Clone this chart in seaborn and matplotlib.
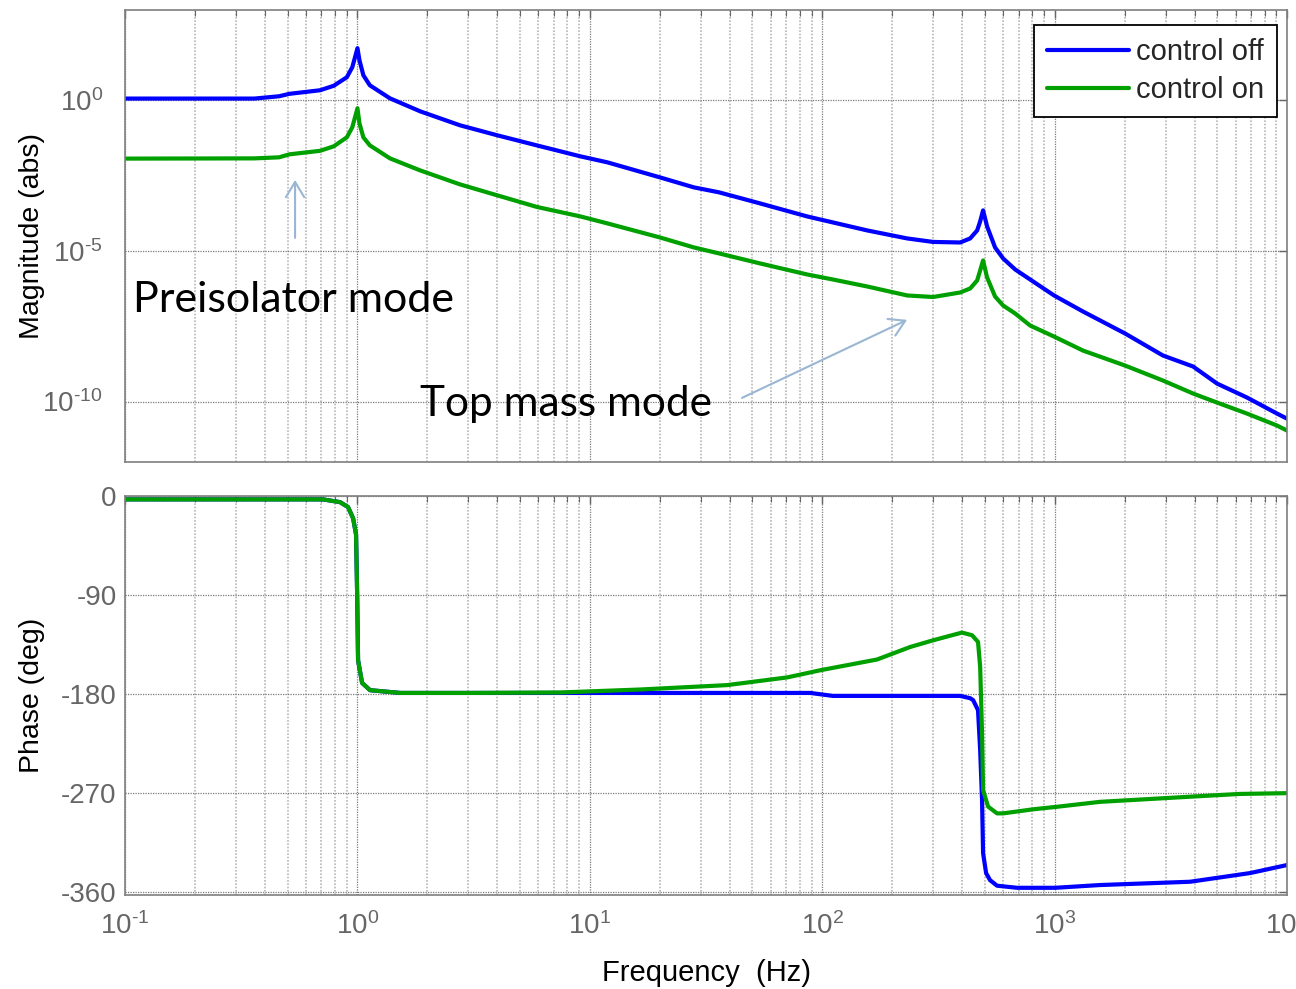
import numpy as np
import matplotlib
matplotlib.use("Agg")
import matplotlib.pyplot as plt
import seaborn as sns
from matplotlib.ticker import LogLocator, NullLocator

# ---------------- data ----------------
# magnitude response (abs), shared frequency grid in Hz
freq_mag = [0.1, 0.36, 0.46, 0.51, 0.69, 0.79, 0.90, 0.95, 1.0, 1.02, 1.06, 1.13,
            1.38, 1.86, 2.76, 4.0, 5.9, 9.1, 11.9, 20, 28, 36, 54, 86, 111, 156,
            232, 300, 392, 433, 464, 478, 492, 512, 554, 600, 676, 784, 994, 1324,
            2009, 2927, 3942, 5000, 6730, 9060, 10000]
mag_off = [1.14, 1.14, 1.36, 1.64, 2.15, 3.03, 5.81, 12.5, 53.5, 21.3, 6.78, 3.15,
           1.16, 0.431, 0.148, 0.0687, 0.0320, 0.0138, 8.71e-3, 2.77e-3, 1.29e-3,
           8.79e-4, 3.78e-4, 1.40e-4, 8.85e-5, 4.80e-5, 2.60e-5, 1.99e-5, 1.91e-5,
           2.60e-5, 4.80e-5, 9.55e-5, 2.22e-4, 6.52e-5, 1.31e-5, 5.64e-6, 2.43e-6,
           1.13e-6, 3.33e-7, 9.77e-8, 1.82e-8, 3.37e-9, 1.46e-9, 3.96e-10,
           1.36e-10, 3.99e-11, 2.72e-11]
mag_on = [1.16e-2, 1.18e-2, 1.28e-2, 1.61e-2, 2.10e-2, 2.96e-2, 5.90e-2, 0.127,
          0.542, 0.172, 5.90e-2, 3.20e-2, 1.18e-2, 4.72e-3, 1.62e-3, 6.98e-4,
          2.90e-4, 1.40e-4, 8.20e-5, 2.81e-5, 1.31e-5, 8.26e-6, 3.85e-6, 1.66e-6,
          1.13e-6, 6.62e-7, 3.33e-7, 2.96e-7, 4.18e-7, 5.68e-7, 1.05e-6, 2.25e-6,
          4.83e-6, 1.32e-6, 3.08e-7, 1.55e-7, 8.39e-8, 3.35e-8, 1.44e-8, 4.94e-9,
          1.57e-9, 4.99e-10, 1.85e-10, 9.27e-11, 3.99e-11, 1.60e-11, 1.09e-11]

# phase response (deg)
freq_ph_off = [0.1, 0.711, 0.841, 0.911, 0.958, 0.986, 0.997, 1.006, 1.047, 1.133,
               1.525, 88.7, 111, 392, 433, 446, 468, 478, 487, 492, 507, 527, 565,
               689, 1005, 1567, 3828, 6934, 10000]
phase_off = [-3.0, -3.0, -5.5, -10.0, -20.3, -35.0, -90.0, -149.4, -170.0, -176.6,
             -179.1, -179.1, -181.8, -181.8, -183.9, -185.7, -194.8, -231.2, -276.6,
             -324.8, -343.0, -349.4, -354.5, -356.4, -356.4, -353.9, -350.9, -343.0,
             -335.7]
freq_ph_on = [0.1, 0.711, 0.841, 0.911, 0.958, 0.986, 0.997, 1.006, 1.047, 1.133,
              1.525, 3.05, 7.44, 16.4, 38.9, 70.6, 97.9, 172, 239, 300, 399, 441,
              468, 478, 487, 492, 517, 565, 600, 807, 1023, 1567, 4227, 6280, 10000]
phase_on = [-3.0, -3.0, -5.5, -10.0, -20.3, -35.0, -90.0, -149.4, -170.0, -176.6,
            -179.1, -179.1, -178.7, -176.0, -172.0, -165.0, -158.5, -148.7, -137.3,
            -131.2, -124.2, -126.6, -132.7, -155.5, -215.7, -267.5, -282.5, -288.7,
            -288.7, -285.0, -282.7, -278.2, -273.0, -271.0, -270.3]

series_labels = ["control off", "control on"]
freq_ticks = [0.1, 1, 10, 100, 1000, 10000]
freq_tick_labels = ["$10^{\u2010 1}$", "$10^{0}$", "$10^{1}$", "$10^{2}$",
                    "$10^{3}$", "$10^{4}$"]
mag_ticks = [1e-10, 1e-5, 1e0]
mag_tick_labels = ["$10^{\u2010 10}$", "$10^{\u2010 5}$", "$10^{0}$"]
phase_ticks = [0, -90, -180, -270, -360]
phase_tick_labels = ["0", "-90", "-180", "-270", "-360"]

# ---------------- style ----------------
sns.set_style("white")
plt.rcParams["font.family"] = ["Liberation Sans", "DejaVu Sans"]
plt.rcParams["mathtext.fontset"] = "custom"
plt.rcParams["mathtext.rm"] = "Liberation Sans"
plt.rcParams["mathtext.it"] = "Liberation Sans:italic"
plt.rcParams["mathtext.default"] = "regular"
plt.rcParams["axes.unicode_minus"] = False

BLUE = "#0000ff"
GREEN = "#00a000"
TICK_GRAY = "#666666"
SPINE_GRAY = "#7f7f7f"

fig = plt.figure(figsize=(12.96, 9.89), dpi=100)
ax_mag = fig.add_axes([0.0965, 0.533, 0.8966, 0.457])
ax_ph = fig.add_axes([0.0965, 0.095, 0.8966, 0.4034])

for ax in (ax_mag, ax_ph):
    ax.set_xscale("log")

line_kw = dict(linewidth=3.0, solid_joinstyle="round", solid_capstyle="round")

sns.lineplot(x=freq_mag, y=mag_off, ax=ax_mag, color=BLUE, label=series_labels[0], **line_kw)
sns.lineplot(x=freq_mag, y=mag_on, ax=ax_mag, color=GREEN, label=series_labels[1], **line_kw)
sns.lineplot(x=freq_ph_off, y=phase_off, ax=ax_ph, color=BLUE, legend=False, **line_kw)
sns.lineplot(x=freq_ph_on, y=phase_on, ax=ax_ph, color=GREEN, legend=False, **line_kw)

ax_mag.set_yscale("log")
ax_mag.set_ylim(1e-12, 1e3)
ax_mag.set_yticks(mag_ticks)
ax_mag.set_yticklabels(mag_tick_labels)
ax_mag.yaxis.set_minor_locator(NullLocator())

ax_ph.set_ylim(-363, 0)
ax_ph.set_yticks(phase_ticks)
ax_ph.set_yticklabels(phase_tick_labels)

for ax in (ax_mag, ax_ph):
    ax.set_xlim(0.1, 1e4)
    ax.set_xticks(freq_ticks)
    ax.xaxis.set_minor_locator(LogLocator(base=10, subs=np.arange(2, 10), numticks=100))
    ax.set_axisbelow(True)
    ax.grid(which="major", axis="both", color="#7a7a7a", linestyle=(0, (1, 1)), linewidth=0.9)
    ax.grid(which="minor", axis="x", color="#b8b8b8", linestyle=(0, (1, 1)), linewidth=1.2)
    ax.tick_params(which="both", direction="in", top=True, right=True,
                   colors=TICK_GRAY, labelsize=20)
    ax.tick_params(which="major", length=6, width=1.0)
    ax.tick_params(which="minor", length=4, width=0.8)
    for sp in ax.spines.values():
        sp.set_color(SPINE_GRAY)
        sp.set_linewidth(1.2)
    ax.set_xlabel("")
    ax.set_ylabel("")

ax_mag.tick_params(axis="x", labelbottom=False)
ax_mag.tick_params(axis="y", pad=16)
ax_ph.tick_params(axis="y", pad=6)
ax_ph.tick_params(axis="x", pad=12)
ax_ph.set_xticklabels(freq_tick_labels)

ax_mag.set_ylabel("Magnitude (abs)", fontsize=20.5, color="black")
ax_ph.set_ylabel("Phase (deg)", fontsize=20.5, color="black")
ax_mag.yaxis.set_label_coords(-0.069, 0.5)
ax_ph.yaxis.set_label_coords(-0.069, 0.5)
ax_ph.set_xlabel("Frequency  (Hz)", fontsize=21, color="black")
ax_ph.xaxis.set_label_coords(0.5, -0.16)

leg = ax_mag.legend(loc="upper right", bbox_to_anchor=(0.9914, 0.9668),
                    borderaxespad=0, frameon=True, fancybox=False,
                    edgecolor="black", framealpha=1, fontsize=21,
                    handlelength=2.8, handletextpad=0.25, labelspacing=0.35,
                    borderpad=0.45)
leg.get_frame().set_linewidth(1.3)

# mode annotations
arrow_kw = dict(arrowstyle="->,head_length=0.5,head_width=0.3",
                color="#9ab6d3", lw=1.5, mutation_scale=22, shrinkA=0, shrinkB=0)
ax_mag.text(0.0069, 0.332, "Preisolator mode", transform=ax_mag.transAxes,
            fontsize=31, family="Lato", color="black", ha="left", va="baseline")
ax_mag.annotate("", xy=(0.1463, 0.6239), xytext=(0.1463, 0.4956),
                xycoords="axes fraction", textcoords="axes fraction", arrowprops=arrow_kw)
ax_mag.text(0.254, 0.102, "Top mass mode", transform=ax_mag.transAxes,
            fontsize=30.5, family="Lato", color="black", ha="left", va="baseline")
ax_mag.annotate("", xy=(0.673, 0.3142), xytext=(0.531, 0.1416),
                xycoords="axes fraction", textcoords="axes fraction", arrowprops=arrow_kw)

fig.savefig("out.png", dpi=100)
